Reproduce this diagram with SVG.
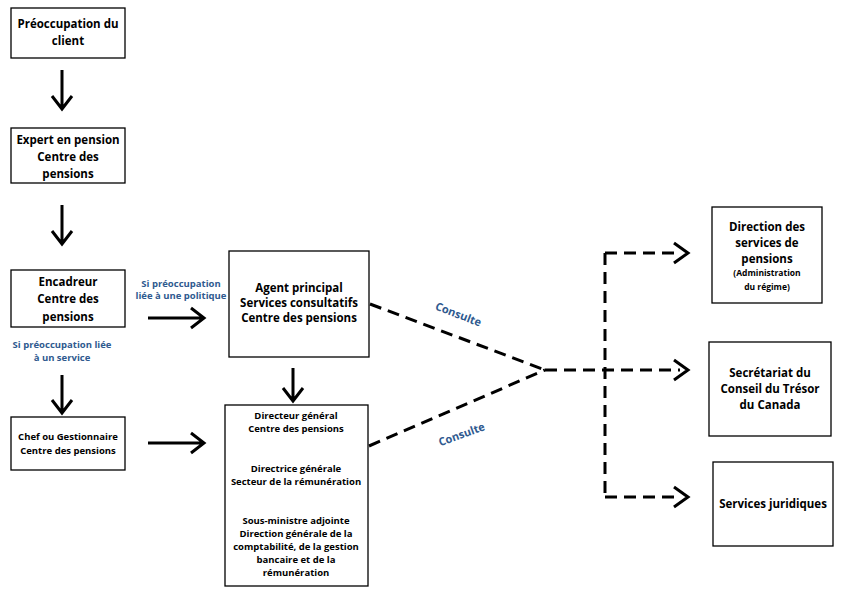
<svg xmlns="http://www.w3.org/2000/svg" width="850" height="597" viewBox="0 0 850 597">
<style>
.b{fill:#fff;stroke:#000;stroke-width:1.3}
text{font-family:"Open Sans","Liberation Sans",sans-serif;font-weight:bold;text-anchor:middle;fill:#000}
.t{font-size:11.5px}
.s{font-size:9.5px}
.bl{fill:#2f5a8f;font-size:9.5px}
.c{fill:#2f5a8f;font-size:11px}
.a{stroke:#000;stroke-width:3;fill:none}
.d{stroke:#000;stroke-width:3;fill:none;stroke-dasharray:12,7}
.th{stroke:#000;stroke-width:1.2;fill:none}
</style>
<rect width="850" height="597" fill="#fff"/>
<g id="connectors">
<path class="a" d="M62 70V108M52 96L62 109L72 96"/>
<path class="a" d="M62 205V243M52 231L62 244L72 231"/>
<path class="a" d="M62 375V412M52 400L62 413L72 400"/>
<path class="a" d="M293 368V400M283 388L293 401L303 388"/>
<path class="a" d="M148 318H203M191 308L204 318L191 328"/>
<path class="a" d="M148 443H203M191 433L204 443L191 453"/>
<path class="th" d="M293 441V456M288 450L293 457L298 450"/>
<path class="th" d="M293 495V510M288 504L293 511L298 504"/>
<path class="d" d="M370 304L545 370M369 446L545 370M545 370H680M605 253V497M605 253H680M605 497H680"/>
<path class="a" d="M674 243L688 253L674 263M674 360L688 370L674 380M674 487L688 497L674 507"/>
<text class="c" transform="translate(457,318) rotate(21)">Consulte</text>
<text class="c" transform="translate(463,438) rotate(-20)">Consulte</text>
<text class="bl" x="181" y="287">Si préoccupation</text>
<text class="bl" x="181" y="299">liée à une politique</text>
<text class="bl" x="62" y="348">Si préoccupation  liée</text>
<text class="bl" x="62" y="361">à un service</text>
</g>
<g id="n1"><rect class="b" x="11" y="8" width="114" height="50"/><text class="t" x="68" y="28">Préoccupation du</text><text class="t" x="68" y="45">client</text></g>
<g id="n2"><rect class="b" x="11" y="128" width="114" height="55"/><text class="t" x="68" y="144">Expert en pension</text><text class="t" x="68" y="161">Centre des</text><text class="t" x="68" y="178">pensions</text></g>
<g id="n3"><rect class="b" x="11" y="270" width="114" height="57"/><text class="t" x="68" y="286">Encadreur</text><text class="t" x="68" y="303">Centre des</text><text class="t" x="68" y="321">pensions</text></g>
<g id="n4"><rect class="b" x="11" y="417" width="114" height="53"/><text class="s" x="68" y="440">Chef ou Gestionnaire</text><text class="s" x="68" y="454">Centre des pensions</text></g>
<g id="n5"><rect class="b" x="229" y="251" width="140" height="106"/><text class="t" x="299" y="292">Agent principal</text><text class="t" x="299" y="307">Services consultatifs</text><text class="t" x="299" y="322">Centre des pensions</text></g>
<g id="n6"><rect class="b" x="225" y="405" width="143" height="181"/>
<text class="s" x="296" y="419">Directeur général</text><text class="s" x="296" y="432">Centre des pensions</text>
<text class="s" x="296" y="472">Directrice générale</text><text class="s" x="296" y="485">Secteur de la rémunération</text>
<text class="s" x="296" y="524">Sous-ministre adjointe</text><text class="s" x="296" y="537">Direction générale de la</text><text class="s" x="296" y="550">comptabilité, de la gestion</text><text class="s" x="296" y="563">bancaire et de la</text><text class="s" x="296" y="576">rémunération</text></g>
<g id="n7"><rect class="b" x="712" y="207" width="110" height="96"/><text class="t" x="767" y="231">Direction des</text><text class="t" x="767" y="247">services de</text><text class="t" x="767" y="263">pensions</text><text class="s" x="767" y="276" style="font-size:8.5px">(Administration</text><text class="s" x="767" y="290" style="font-size:8.5px">du régime)</text></g>
<g id="n8"><rect class="b" x="709" y="342" width="122" height="94"/><text class="t" x="770" y="377">Secrétariat du</text><text class="t" x="770" y="393">Conseil du Trésor</text><text class="t" x="770" y="409">du Canada</text></g>
<g id="n9"><rect class="b" x="713" y="462" width="120" height="84"/><text class="t" x="773" y="508">Services juridiques</text></g>
</svg>
